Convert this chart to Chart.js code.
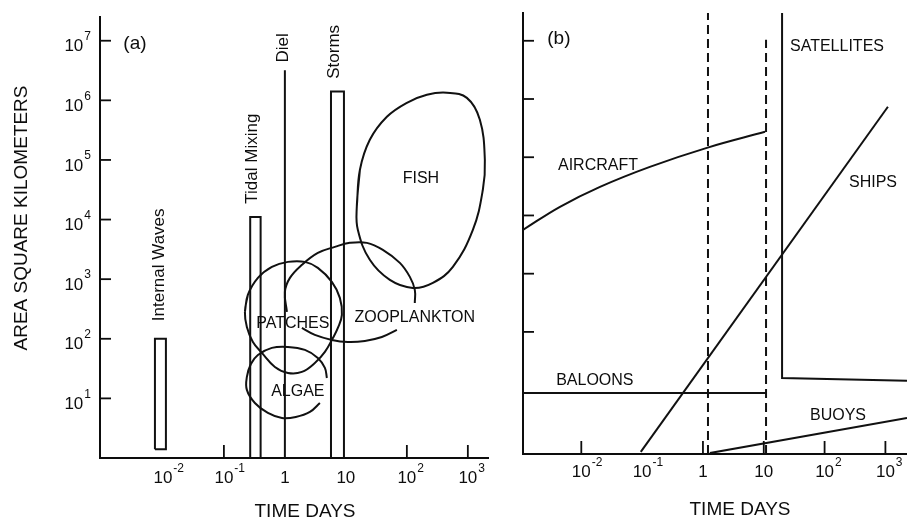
<!DOCTYPE html>
<html><head><meta charset="utf-8">
<script src="https://cdn.jsdelivr.net/npm/chart.js@4.4.1/dist/chart.umd.min.js"></script>
<style>
html,body{margin:0;padding:0;background:#fff;}
#wrap{position:relative;width:907px;height:521px;overflow:hidden;background:#fff;}
canvas{position:absolute;left:0;top:0;}
</style></head><body>
<div id="wrap"><canvas id="ca" width="907" height="521"></canvas><canvas id="cb" width="907" height="521"></canvas></div>
<script>
// ---------- tick labels ----------
const timeTickVals = [0.01, 0.1, 1, 10, 100, 1000];
const timeTickBase = ['10', '10', '1', '10', '10', '10'];
const timeTickExp  = ['-2', '-1', '', '', '2', '3'];
const areaTickVals = [10, 100, 1e3, 1e4, 1e5, 1e6, 1e7];
const areaTickExp  = ['1', '2', '3', '4', '5', '6', '7'];
const timeMarksA = [0.1, 100, 1000];
const timeMarksB = [0.01, 1, 10, 100, 1000];
const areaMarksB = [100, 1e3, 1e4, 1e5, 1e6, 1e7];

// ---------- panel (a): phenomena ----------
const internalWavesTime = [0.0074, 0.0074, 0.0112, 0.0112, 0.0074];
const internalWavesArea = [1.4, 100, 100, 1.4, 1.4];
const tidalMixingTime = [0.27, 0.27, 0.40, 0.40];
const tidalMixingArea = [1, 1.1e4, 1.1e4, 1];
const dielTime = [1, 1];
const dielArea = [1, 3.2e6];
const stormsTime = [5.7, 5.7, 9.3, 9.3];
const stormsArea = [1, 1.4e6, 1.4e6, 1];

const fishTime = [15.1, 17.0, 24.7, 47.0, 100, 213, 453, 964, 1574, 1900, 1762, 1208, 568, 267, 125, 52.6, 24.7, 15.7];
const fishArea = [1.63e4, 6.84e4, 2.18e5, 5.30e5, 9.1e5, 1.24e6, 1.34e6, 1.10e6, 4.72e5, 1.0e5, 3.16e4, 6720, 1610, 867, 714, 973, 2110, 6720];

const patchesTime = [0.221, 0.247, 0.361, 0.612, 1.12, 2.13, 3.47, 5.89, 7.97, 8.6, 7.39, 6.12, 4.53, 3.10, 1.90, 1.12, 0.686, 0.420, 0.299, 0.238];
const patchesArea = [282, 545, 1050, 1608, 1950, 1950, 1548, 901, 485, 252, 152, 103, 60.2, 39.3, 27.8, 26.7, 33.7, 57.9, 88.5, 158];

const algaeTime = [4.88, 4.53, 3.47, 2.13, 1.12, 0.612, 0.361, 0.277, 0.238, 0.238, 0.322, 0.526, 0.893, 1.51, 2.57, 3.75];
const algaeArea = [22.0, 32.4, 47.7, 65.0, 73.0, 70.3, 53.6, 37.8, 22.9, 13.9, 8.38, 5.69, 4.69, 4.88, 5.92, 8.38];

const zooUpperTime = [1.08, 1.0, 1.21, 1.90, 3.47, 6.6, 11.6, 22.1, 40.4, 76.8, 112, 135, 135];
const zooUpperArea = [282, 612, 1050, 1738, 2762, 3484, 4064, 4064, 3105, 1876, 1092, 661, 400];
const zooLowerTime = [1.90, 3.10, 5.89, 10.8, 20.5, 38.9, 68.6];
const zooLowerArea = [152, 116, 95.7, 88.5, 92.0, 107, 141];

const labelsA = ['(a)', 'Internal Waves', 'Tidal Mixing', 'Diel', 'Storms', 'FISH', 'ZOOPLANKTON', 'PATCHES', 'ALGAE'];
const labelsATime = [0.00348, 0.0086, 0.288, 0.96, 6.36, 170, 135, 1.35, 1.63];
const labelsAArea = [8.9e6, 1740, 1.05e5, 7.6e6, 6.5e6, 4.8e4, 224, 178, 12.8];
const labelsARot = [0, 1, 1, 1, 1, 0, 0, 0, 0];

// ---------- panel (b): sampling platforms ----------
const aircraftTime = [0.0011, 0.00446, 0.0203, 0.134, 1.16, 10.5];
const aircraftArea = [5660, 1.41e4, 3.1e4, 6.84e4, 1.45e5, 2.73e5];
const shipsTime = [0.095, 1100];
const shipsArea = [0.87, 7.35e5];
const satellitesTime = [20, 20, 2265];
const satellitesArea = [3.0e7, 16.2, 14.5];
const baloonsTime = [0.0011, 10.9];
const baloonsArea = [8.95, 8.95];
const buoysTime = [1.30, 2265];
const buoysArea = [0.83, 3.33];
const dash1Time = [1.21, 1.21];
const dash1Area = [0.8, 3.0e7];
const dash2Time = [10.9, 10.9];
const dash2Area = [0.8, 1.04e7];

const labelsB = ['(b)', 'SATELLITES', 'AIRCRAFT', 'SHIPS', 'BALOONS', 'BUOYS'];
const labelsBTime = [0.00428, 160, 0.0188, 625, 0.0167, 166];
const labelsBArea = [1.08e7, 7.9e6, 7.1e4, 3.63e4, 14.4, 3.6];

// ---------- helpers ----------
function pts(t, a) { return t.map((v, i) => ({x: v, y: a[i]})); }
function loop(t, a) { const p = pts(t, a); return p.concat([p[0], p[1]]); }
function ds(data, extra) {
  return Object.assign({data, borderColor: '#111', borderWidth: 2, pointRadius: 0, tension: 0, fill: false}, extra || {});
}
const FONT = '"Liberation Sans", Arial, Helvetica, sans-serif';
const INK = '#0d0d0d';

function drawPow(ctx, x, y, base, exp, align, bs, es, dy) {
  ctx.font = bs + 'px ' + FONT;
  const bw = ctx.measureText(base).width;
  ctx.font = es + 'px ' + FONT;
  const ew = exp ? ctx.measureText(exp).width : 0;
  let bx;
  if (align === 'center') bx = x - bw / 2; else bx = x - bw - (exp ? ew + 1 : 0);
  ctx.textAlign = 'left'; ctx.textBaseline = 'middle';
  ctx.font = bs + 'px ' + FONT;
  ctx.fillText(base, bx, y);
  if (exp) { ctx.font = es + 'px ' + FONT; ctx.fillText(exp, bx + bw + 1, y - dy); }
}

const decor = {
  id: 'decor',
  afterDraw(chart, args, o) {
    const ctx = chart.ctx, xs = chart.scales.x, ys = chart.scales.y;
    ctx.save();
    ctx.strokeStyle = INK; ctx.fillStyle = INK; ctx.lineWidth = 1.8;
    o.xMarks.forEach(v => { const px = xs.getPixelForValue(v); ctx.beginPath(); ctx.moveTo(px, ys.bottom); ctx.lineTo(px, ys.bottom - 13); ctx.stroke(); });
    o.yMarks.forEach(v => { const py = ys.getPixelForValue(v); ctx.beginPath(); ctx.moveTo(xs.left, py); ctx.lineTo(xs.left + 11, py); ctx.stroke(); });
    timeTickVals.forEach((v, i) => drawPow(ctx, xs.getPixelForValue(v), ys.bottom + o.xLabDy, timeTickBase[i], timeTickExp[i], 'center', 17, 12, 9));
    if (o.yLabels) areaTickVals.forEach((v, i) => drawPow(ctx, xs.left - 9, ys.getPixelForValue(v) + 6, '10', areaTickExp[i], 'right', 17, 12, 10));
    o.labels.forEach((t, i) => {
      const px = xs.getPixelForValue(o.lt[i]), py = ys.getPixelForValue(o.la[i]);
      ctx.save(); ctx.translate(px, py);
      const rot = o.rot ? o.rot[i] : 0;
      if (rot) ctx.rotate(-Math.PI / 2);
      ctx.font = (rot ? 17 : (i === 0 ? 19 : 16)) + 'px ' + FONT;
      ctx.textAlign = 'center'; ctx.textBaseline = 'middle';
      ctx.fillText(t, 0, 0);
      ctx.restore();
    });
    ctx.font = '19px ' + FONT; ctx.textAlign = 'center'; ctx.textBaseline = 'middle';
    ctx.fillText('TIME DAYS', o.xTitle[0], o.xTitle[1]);
    if (o.yTitle) { ctx.save(); ctx.translate(o.yTitle[0], o.yTitle[1]); ctx.rotate(-Math.PI / 2); ctx.fillText('AREA SQUARE KILOMETERS', 0, 0); ctx.restore(); }
    ctx.restore();
  }
};

function axisOpts(min, max) {
  return { type: 'logarithmic', min, max, ticks: {display: false}, grid: {display: false, drawTicks: false}, border: {display: true, color: INK, width: 2} };
}
function makeChart(id, datasets, xr, yr, pad, deco) {
  return new Chart(document.getElementById(id), {
    type: 'line',
    data: {datasets},
    options: {
      responsive: false, animation: false, devicePixelRatio: 1,
      layout: {padding: pad},
      plugins: {legend: {display: false}, tooltip: {enabled: false}, decor: deco},
      scales: {x: axisOpts(xr[0], xr[1]), y: axisOpts(yr[0], yr[1])}
    },
    plugins: [decor]
  });
}

makeChart('ca', [
  ds(pts(internalWavesTime, internalWavesArea)),
  ds(pts(tidalMixingTime, tidalMixingArea)),
  ds(pts(dielTime, dielArea)),
  ds(pts(stormsTime, stormsArea)),
  ds(loop(fishTime, fishArea), {tension: 0.4}),
  ds(loop(patchesTime, patchesArea), {tension: 0.4}),
  ds(pts(algaeTime, algaeArea), {tension: 0.4}),
  ds(pts(zooUpperTime, zooUpperArea), {tension: 0.4}),
  ds(pts(zooLowerTime, zooLowerArea), {tension: 0.4})
], [0.00093, 2140], [1, 2.5e7], {left: 100, top: 17, right: 419, bottom: 63},
  {xMarks: timeMarksA, yMarks: areaTickVals, xLabDy: 20, yLabels: true, labels: labelsA, lt: labelsATime, la: labelsAArea, rot: labelsARot, xTitle: [305, 512], yTitle: [22, 218]});

makeChart('cb', [
  ds(pts(aircraftTime, aircraftArea), {tension: 0.4}),
  ds(pts(shipsTime, shipsArea)),
  ds(pts(satellitesTime, satellitesArea)),
  ds(pts(baloonsTime, baloonsArea)),
  ds(pts(buoysTime, buoysArea)),
  ds(pts(dash1Time, dash1Area), {borderDash: [9, 5]}),
  ds(pts(dash2Time, dash2Area), {borderDash: [9, 5]})
], [0.0011, 2265], [0.8, 3.0e7], {left: 523, top: 13, right: 0, bottom: 67},
  {xMarks: timeMarksB, yMarks: areaMarksB, xLabDy: 18, yLabels: false, labels: labelsB, lt: labelsBTime, la: labelsBArea, xTitle: [740, 510]});
</script>
</body></html>
